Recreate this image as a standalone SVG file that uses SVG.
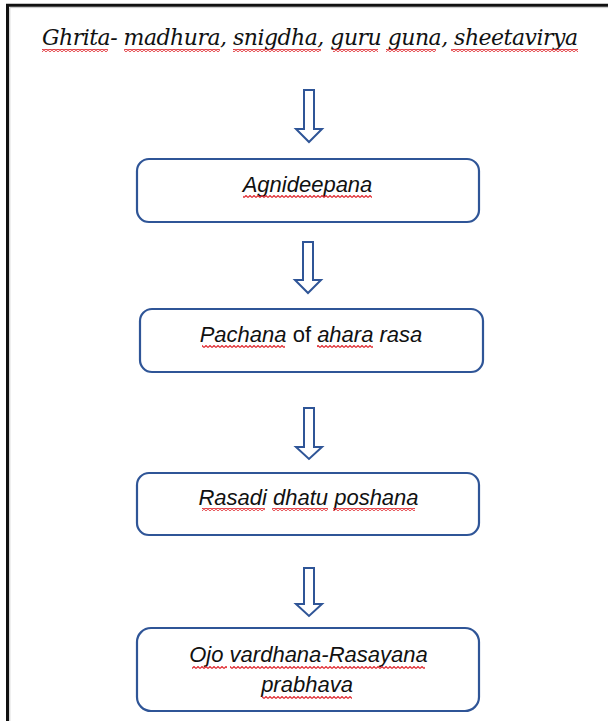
<svg xmlns="http://www.w3.org/2000/svg" width="608" height="721" viewBox="0 0 608 721">
<defs>
<pattern id="wavy" width="4" height="3" patternUnits="userSpaceOnUse">
<path d="M0,2.5 L1,1.5 L2,0.5 L3,1.5 L4,2.5" fill="none" stroke="#e02a30" stroke-width="1.1"/>
</pattern>
</defs>
<style>
.box{fill:#fff;stroke:#2f5597;stroke-width:2.2}
.arr{fill:#fff;stroke:#2f5597;stroke-width:2;stroke-linejoin:miter}
.lbl{font-family:"Liberation Sans",Arial,sans-serif;font-size:22px;font-style:italic;fill:#111}
.ttl{font-family:"DejaVu Serif","Liberation Serif",serif;font-size:22px;font-style:italic;fill:#111}
.wv{fill:url(#wavy)}
</style>
<rect width="608" height="721" fill="#fff"/>
<g id="frame">
<path d="M7.5,721 V5.3 H608" fill="none" stroke="#111" stroke-width="3"/>
<path d="M9.8,721 V7.6 H608" fill="none" stroke="#c8c8c8" stroke-width="1"/>
</g>
<g id="title">
<text class="ttl" x="42" y="45" textLength="536" lengthAdjust="spacing">Ghrita- madhura, snigdha, guru guna, sheetavirya</text>
<rect class="wv" x="42" y="49" width="66" height="3"/>
<rect class="wv" x="124" y="49" width="96" height="3"/>
<rect class="wv" x="233" y="49" width="88" height="3"/>
<rect class="wv" x="333" y="49" width="45" height="3"/>
<rect class="wv" x="386" y="49" width="50" height="3"/>
<rect class="wv" x="451" y="49" width="127" height="3"/>
</g>
<g id="connectors">
<path class="arr" d="M304,90 H314 V129 H322 L309,142 L296,129 H304 Z"/>
<path class="arr" d="M303,242 H313 V280 H321 L308,293 L295,280 H303 Z"/>
<path class="arr" d="M304,408 H314 V447 H322 L309,459 L296,447 H304 Z"/>
<path class="arr" d="M304,568 H314 V604 H322 L309,616 L296,604 H304 Z"/>
</g>
<g id="node1">
<rect class="box" x="137" y="159" width="342" height="63" rx="12"/>
<text class="lbl" x="307.5" y="192" text-anchor="middle">Agnideepana</text>
<rect class="wv" x="243" y="195" width="129" height="3"/>
</g>
<g id="node2">
<rect class="box" x="140" y="309" width="343" height="63" rx="12"/>
<text class="lbl" x="311" y="342" text-anchor="middle">Pachana <tspan font-style="normal">of</tspan> ahara rasa</text>
<rect class="wv" x="202" y="345" width="83" height="3"/>
<rect class="wv" x="317" y="345" width="56" height="3"/>
</g>
<g id="node3">
<rect class="box" x="137" y="473" width="342" height="62" rx="12"/>
<text class="lbl" x="308.5" y="505" text-anchor="middle">Rasadi dhatu poshana</text>
<rect class="wv" x="202" y="508" width="63" height="3"/>
<rect class="wv" x="272" y="508" width="56" height="3"/>
<rect class="wv" x="333" y="508" width="82" height="3"/>
</g>
<g id="node4">
<rect class="box" x="137" y="628" width="342" height="83" rx="14"/>
<text class="lbl" text-anchor="middle"><tspan x="308.5" y="662">Ojo vardhana-Rasayana</tspan><tspan x="307" y="692">prabhava</tspan></text>
<rect class="wv" x="192" y="666" width="35" height="3"/>
<rect class="wv" x="230" y="666" width="195" height="3"/>
<rect class="wv" x="262" y="696" width="90" height="3"/>
</g>
</svg>
